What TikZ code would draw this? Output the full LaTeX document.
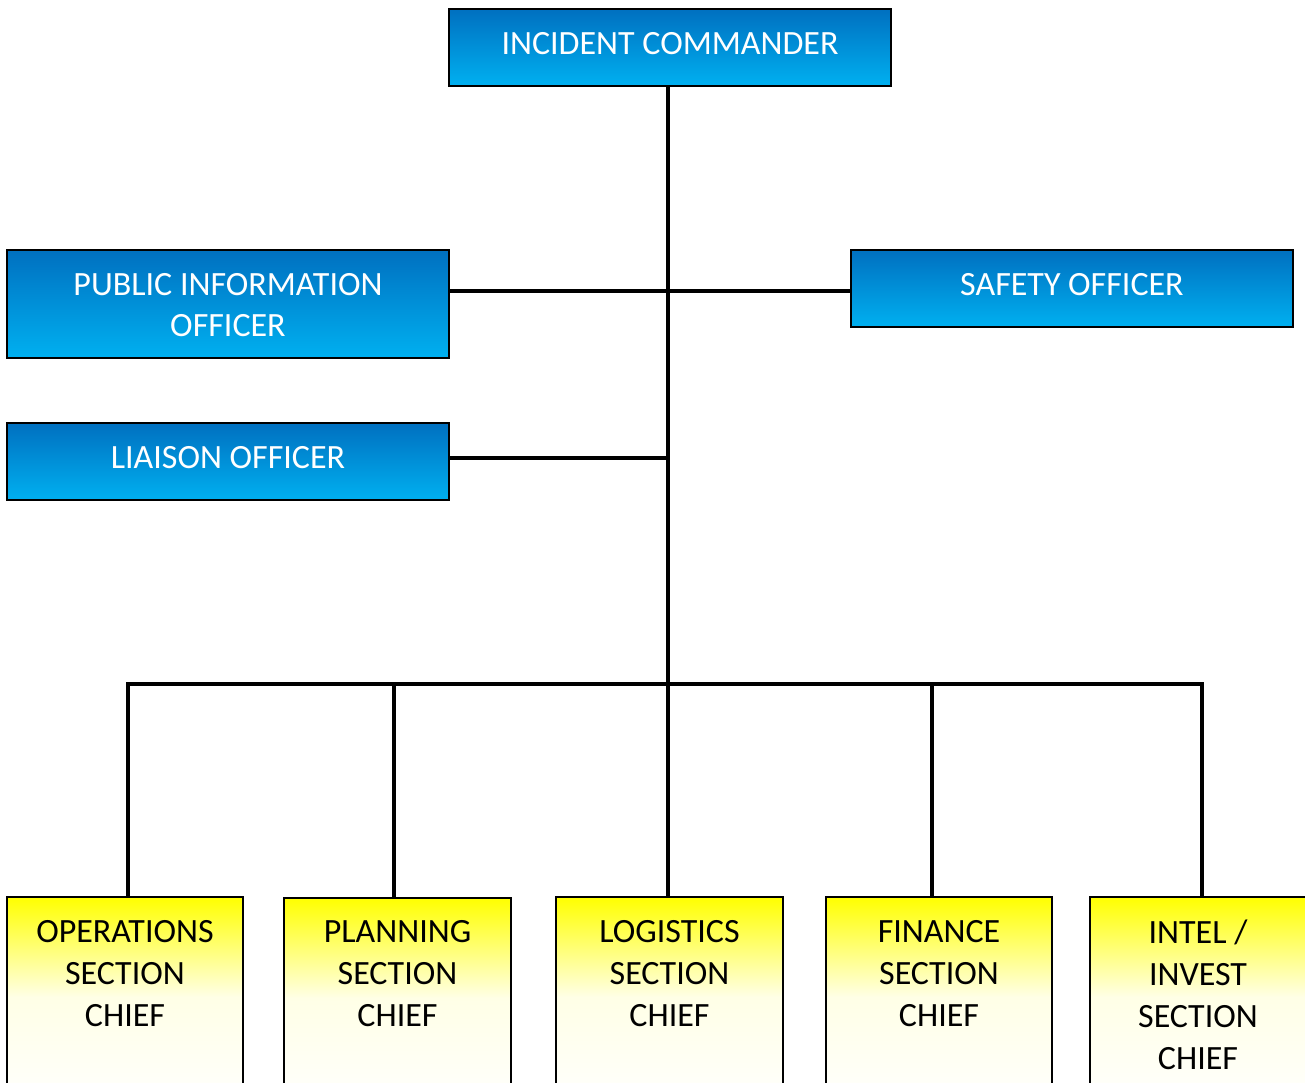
\documentclass[tikz,border=0pt]{standalone}
\usepackage{fontspec}
\setmainfont{Carlito}
\definecolor{bluetop}{HTML}{0070C0}
\definecolor{bluebot}{HTML}{00B0F0}
\definecolor{yeltop}{HTML}{FFFF00}
\definecolor{yelmid}{HTML}{FFFFE6}
\definecolor{yelbot}{HTML}{FFFFFC}
\tikzset{
  bluebox/.style={draw=black, line width=1.5pt, top color=bluetop, bottom color=bluebot, minimum width=331.5pt, inner sep=0pt},
  yelbox/.style={draw=black, line width=1.5pt, top color=yeltop, bottom color=yelbot, middle color=yelmid, minimum height=150pt, inner sep=0pt},
  btext/.style={text=white, font=\fontsize{25.5}{30.5}\selectfont, align=center, inner sep=0pt},
  ytext/.style={text=black, font=\fontsize{25.5}{31.5}\selectfont, align=center, inner sep=0pt, anchor=north},
  conn/.style={line width=2.7pt, black}
}
\begin{document}
\begin{tikzpicture}[x=0.75pt,y=-0.75pt]
\clip (0,0) rectangle (1305,1082);
\fill[white] (0,0) rectangle (1305,1082);
% blue boxes
\node[bluebox, minimum height=57.75pt] (ic) at (670,47.5) {};
\node[btext] (icT) at (670,44) {INCIDENT COMMANDER};
\node[bluebox, minimum height=81pt] (pio) at (228,304) {};
\node[btext] (pioT) at (228,305) {PUBLIC INFORMATION\\OFFICER};
\node[bluebox, minimum height=57.75pt] (saf) at (1072,288.5) {};
\node[btext] (safT) at (1072,285) {SAFETY OFFICER};
\node[bluebox, minimum height=57.75pt] (lia) at (228,461.5) {};
\node[btext] (liaT) at (228,458) {LIAISON OFFICER};
% yellow boxes
\node[yelbox, minimum width=177pt] (ops) at (125,997) {};
\node[yelbox, minimum width=170.25pt] (pla) at (397.5,998) {};
\node[yelbox, minimum width=170.25pt] (log) at (669.5,997) {};
\node[yelbox, minimum width=169.5pt] (fin) at (939,997) {};
\node[yelbox, minimum width=172.5pt] (int) at (1205,997) {};
\node[ytext] (opsT) at (125,920) {OPERATIONS\\SECTION\\CHIEF};
\node[ytext] (plaT) at (397.5,920) {PLANNING\\SECTION\\CHIEF};
\node[ytext] (logT) at (669.5,920) {LOGISTICS\\SECTION\\CHIEF};
\node[ytext] (finT) at (939,920) {FINANCE\\SECTION\\CHIEF};
\node[ytext] (intT) at (1198,920) {INTEL /\\INVEST\\SECTION\\CHIEF};
% junction coordinates
\coordinate (j) at (668,684);
\coordinate (bl) at (128,684);
\coordinate (b2) at (394,684);
\coordinate (b4) at (932,684);
\coordinate (br) at (1202,684);
% connectors
\draw[conn] (ic.south -| j) -- (j);
\draw[conn] (pio.east |- 0,291) -- (saf.west |- 0,291);
\draw[conn] (lia.east |- 0,458) -- (j |- 0,458);
\draw[conn, line cap=rect] (bl) -- (br);
\draw[conn] (bl) -- (bl |- ops.north);
\draw[conn] (b2) -- (b2 |- pla.north);
\draw[conn] (j) -- (j |- log.north);
\draw[conn] (b4) -- (b4 |- fin.north);
\draw[conn] (br) -- (br |- int.north);
\end{tikzpicture}
\end{document}
